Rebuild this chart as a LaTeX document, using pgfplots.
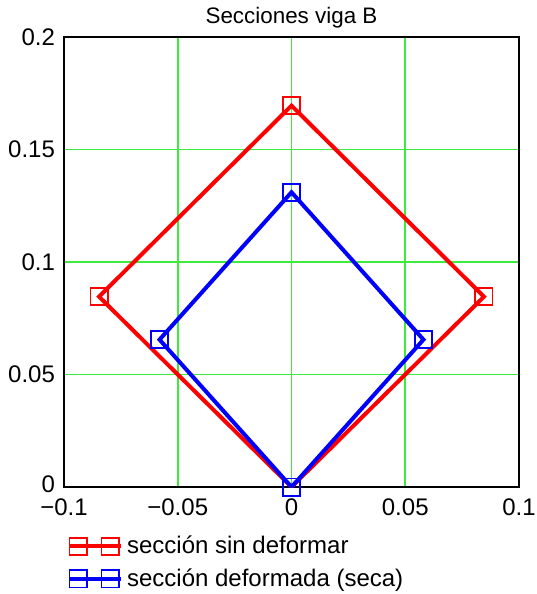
\documentclass[border=0pt]{standalone}
\usepackage{fontspec}
\setmainfont{Liberation Sans}
\usepackage{pgfplots}
\pgfplotsset{compat=1.18}

\definecolor{gridgreen}{RGB}{60,235,60}

\begin{document}
\begin{tikzpicture}[font=\fontsize{12}{14}\selectfont]
  \useasboundingbox (-32pt,-53.5pt) rectangle (236pt,243.5pt);
  \begin{axis}[
      scale only axis,
      width=227.5pt, height=225pt,
      xmin=-0.1, xmax=0.1,
      ymin=0, ymax=0.2,
      xtick={-0.1,-0.05,0,0.05,0.1},
      xticklabels={−0.1,−0.05,0,0.05,0.1},
      ytick={0,0.05,0.1,0.15,0.2},
      yticklabels={\raisebox{2.5pt}{0},0.05,0.1,0.15,0.2},
      major tick length=0pt,
      xticklabel style={yshift=-2.5pt},
      yticklabel style={xshift=-1pt},
      xmajorgrids, ymajorgrids,
      major grid style={draw=gridgreen, line width=0.8pt},
      axis line style={black, line width=1pt},
      title={Secciones viga B},
      title style={yshift=-5pt, font=\fontsize{11.2}{13}\selectfont},
      legend style={draw=none, fill=none, at={(-0.005,-0.09)}, anchor=north west,
        row sep=2pt, cells={anchor=west}},
      legend image code/.code={
        \draw[#1, mark=none] (0pt,0pt) -- (25.5pt,0pt);
        \draw[#1, only marks] plot coordinates {(4pt,0pt) (20pt,0pt)};
      },
      /tikz/every even column/.append style={column sep=3pt},
    ]

    % seccion sin deformar
    \addplot[red, line width=2pt, mark=square, mark size=4.3pt,
      mark options={line width=0.9pt, solid}] coordinates {
        (0,0)
        (-0.0846,0.0846)
        (0,0.1695)
        (0.0846,0.0846)
        (0,0)
    };
    \addlegendentry{sección sin deformar}

    % seccion deformada
    \addplot[blue, line width=2pt, mark=square, mark size=4.3pt,
      mark options={line width=0.9pt, solid}] coordinates {
        (0,0)
        (-0.058,0.0655)
        (0,0.131)
        (0.058,0.0655)
        (0,0)
    };
    \addlegendentry{sección deformada (seca)}

  \end{axis}
\end{tikzpicture}
\end{document}
